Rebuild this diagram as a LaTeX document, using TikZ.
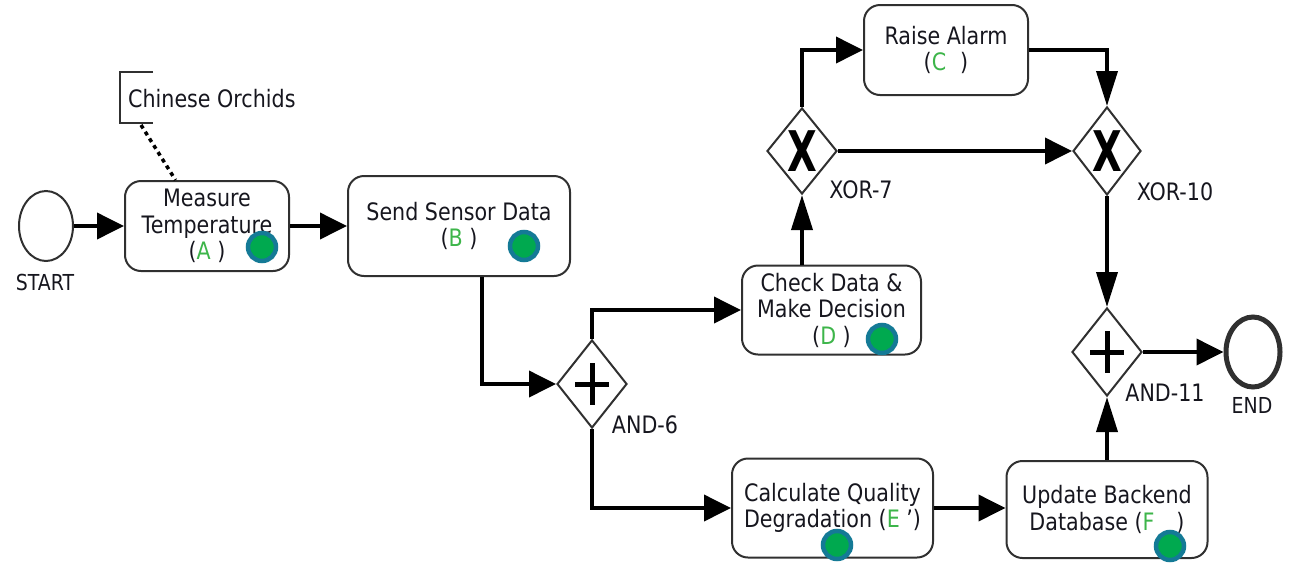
\documentclass[tikz,border=0pt]{standalone}
\usepackage{fontspec}
\usepackage{graphicx}
\setmainfont{DejaVu Sans}[FakeStretch=0.86]
\usetikzlibrary{arrows.meta,shapes.geometric,calc}
\definecolor{ink}{HTML}{16161E}
\definecolor{edge}{HTML}{303030}
\definecolor{letter}{HTML}{3DB54A}
\definecolor{dotfill}{HTML}{00A94F}
\definecolor{dotring}{HTML}{147A96}
\newcommand{\gl}[1]{\textcolor{letter}{#1}}
\begin{document}
\begin{tikzpicture}[x=1pt,y=-1pt,
  task/.style={draw=edge,line width=2pt,rounded corners=16pt,align=center,
    text=ink,inner sep=0pt,font=\fontsize{24}{26.5}\selectfont},
  gateway/.style={diamond,draw=edge,line width=2pt,minimum width=70pt,
    minimum height=88pt,inner sep=0pt},
  event/.style={ellipse,draw=edge,minimum width=54pt,minimum height=70pt,inner sep=0pt},
  lbl/.style={text=ink,font=\fontsize{24}{26}\selectfont,inner sep=0pt},
  smalllbl/.style={text=ink,font=\fontsize{22}{24}\selectfont,inner sep=0pt},
  flow/.style={line width=3.8pt,black},
  harrow/.style={flow,-{Triangle[length=27pt,width=26pt]}},
  varrow/.style={flow,-{Triangle[length=35pt,width=21pt]}},
  marker/.style={circle,fill=dotfill,draw=dotring,line width=4.5pt,
    minimum size=28pt,inner sep=0pt},
  plus/.style={line width=5pt,black},
  xmark/.style={inner sep=0pt,text=black,font=\fontsize{56}{56}\selectfont\bfseries},
  ]
\useasboundingbox (0,0) rectangle (1294,563);

% events
\node[event,line width=2pt] (start) at (46,226) {};
\node[smalllbl] (startlbl) at (45,282) {START};
\node[event,line width=5pt] (end) at (1253,352) {};
\node[smalllbl] (endlbl) at (1252,405) {END};

% tasks
\node[task,minimum width=164pt,minimum height=90pt] (A) at (207,226)
  {Measure\\Temperature\\(\gl{A}\ )};
\node[task,minimum width=222pt,minimum height=100pt] (B) at (459,226)
  {Send Sensor Data\\(\gl{B}\ )};
\node[task,minimum width=164pt,minimum height=90pt] (C) at (946,50)
  {Raise Alarm\\(\gl{C}\hspace{14pt})};
\node[task,minimum width=179pt,minimum height=89pt] (D) at (831.5,310)
  {Check Data \&\\Make Decision\\(\gl{D}\ )};
\node[task,minimum width=201pt,minimum height=99pt] (E) at (832.5,508)
  {Calculate Quality\\Degradation (\gl{E} ')};
\node[task,minimum width=201pt,minimum height=97pt] (F) at (1107,509.5)
  {Update Backend\\Database (\gl{F}\hspace{22pt})};

% annotation
\node[lbl,anchor=west] (note) at (128,99) {Chinese Orchids};
\draw[edge,line width=2pt] (153,72) -- (120,72) -- (120,123) -- (153,123);
\coordinate (notefoot) at (141,125);
\draw[black,line width=3.5pt,dash pattern=on 4pt off 4pt]
  (notefoot) -- ($(A.north west)!0.31!(A.north east)$);

% gateways
\node[gateway] (and6) at (592,384) {};
\node[gateway,minimum height=86pt] (x7) at (802,151) {};
\node[gateway,minimum width=68pt] (x10) at (1107,151) {};
\node[gateway] (and11) at (1107,352) {};
\foreach \g in {and6,and11}{
  \draw[plus] ($(\g)+(-17,0)$) -- ++(34,0);
  \draw[plus] ($(\g)+(0,-21)$) -- ++(0,42);
}
\node[xmark] (x7sym) at (x7) {\scalebox{0.8}[1]{X}};
\node[xmark] (x10sym) at (x10) {\scalebox{0.8}[1]{X}};
\node[lbl] (and6lbl) at (645,425) {AND-6};
\node[lbl] (x7lbl) at (861,190) {XOR-7};
\node[lbl] (x10lbl) at (1175,192) {XOR-10};
\node[lbl] (and11lbl) at (1165,393) {AND-11};

% sequence flows
\draw[harrow] (start) -- (A);
\draw[harrow] (A) -- (B);
\draw[harrow] ($(B.south)+(23,0)$) |- (and6.west);
\draw[harrow] (and6.north) |- (D.west);
\draw[harrow] (and6.south) |- (E.west);
\draw[varrow] (x7.south |- D.north) -- (x7.south);
\draw[harrow] (x7.north) |- (C.west);
\draw[harrow] (x7.east) -- (x10.west);
\draw[varrow] (C.east) -| (x10.north);
\draw[varrow] (x10.south) -- (and11.north);
\draw[harrow] (E.east) -- (E.east -| F.west);
\draw[varrow] (and11.south |- F.north) -- (and11.south);
\draw[harrow] (and11.east) -- (end.west);

% status markers
\node[marker] (mA) at (262,247) {};
\node[marker] (mB) at (524,246) {};
\node[marker] (mD) at (882,339) {};
\node[marker] (mE) at (837,545) {};
\node[marker] (mF) at (1170,546) {};
\end{tikzpicture}
\end{document}
